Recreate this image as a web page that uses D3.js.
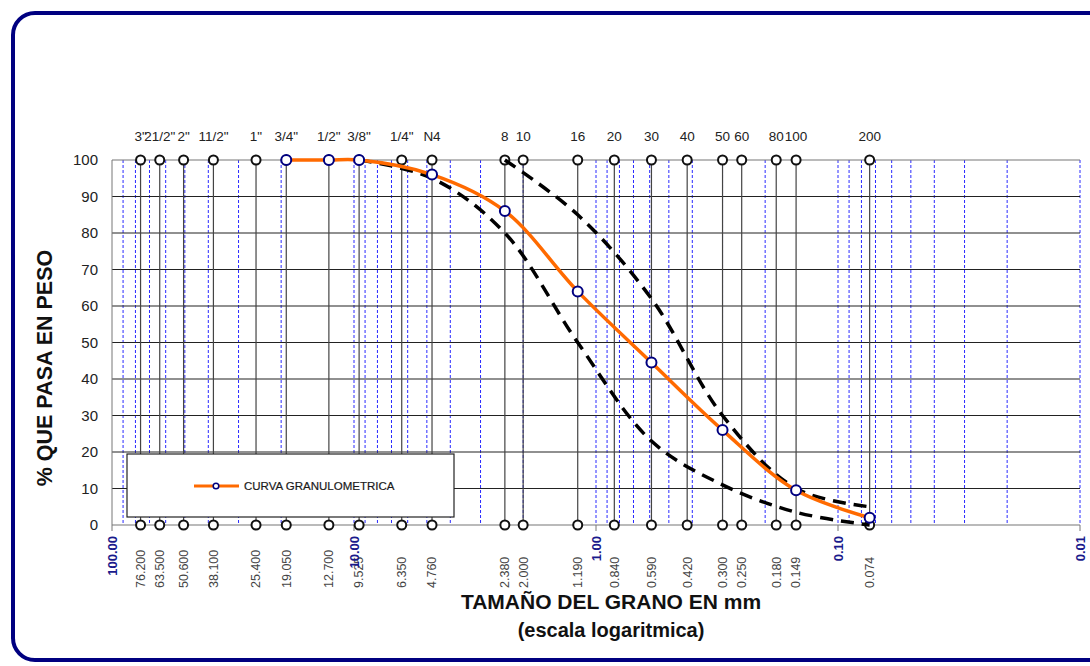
<!DOCTYPE html>
<html>
<head>
<meta charset="utf-8">
<script src="https://cdn.jsdelivr.net/npm/d3@7"></script>
<style>
  body { margin: 0; background: #fff; }
  text { font-family: Arial, "Liberation Sans", sans-serif; }
</style>
</head>
<body>
<div id="chart"></div>
<script>
// sieve openings (mm) and their names
var sieveSizes = [76.2, 63.5, 50.6, 38.1, 25.4, 19.05, 12.7, 9.525, 6.35, 4.76, 2.38, 2.0, 1.19, 0.84, 0.59, 0.42, 0.3, 0.25, 0.18, 0.149, 0.074];
var sieveNames = ['3"', '21/2"', '2"', '11/2"', '1"', '3/4"', '1/2"', '3/8"', '1/4"', 'N4', '8', '10', '16', '20', '30', '40', '50', '60', '80', '100', '200'];

// granulometric curve
var curveSize = [19.05, 12.7, 9.525, 4.76, 2.38, 1.19, 0.59, 0.3, 0.149, 0.074];
var curvePass = [100, 100, 100, 96, 86, 64, 44.5, 26, 9.5, 2];

// spec limits (dashed)
var upperSize = [2.38, 1.19, 0.59, 0.3, 0.149, 0.074];
var upperPass = [100, 85, 62, 30, 10, 5];
var lowerSize = [9.525, 4.76, 2.38, 1.19, 0.59, 0.3, 0.149, 0.074];
var lowerPass = [100, 95, 80, 50, 23, 11, 3.5, 0];

var decades = [100, 10, 1, 0.1, 0.01];
var decadeLabels = ['100.00', '10.00', '1.00', '0.10', '0.01'];
var yTicks = [0, 10, 20, 30, 40, 50, 60, 70, 80, 90, 100];

var width = 1090,
    height = 666;

var x = d3.scaleLog().domain([100, 0.01]).range([112, 1080]),
    y = d3.scaleLinear().domain([0, 100]).range([525, 160]);

var svg = d3.select('#chart').append('svg')
    .attr('width', width)
    .attr('height', height);

// outer rounded frame
svg.append('rect')
    .attr('x', 13).attr('y', 13)
    .attr('width', 1110).attr('height', 647)
    .attr('rx', 22)
    .attr('fill', 'none')
    .attr('stroke', '#000080')
    .attr('stroke-width', 4);

// minor log grid (blue dashed)
var minor = [];
for (var p = -2; p < 2; p++) {
  for (var m = 1; m < 10; m++) {
    var v = m * Math.pow(10, p);
    if (v < 100 && v > 0.01) minor.push(v);
  }
}
minor.push(0.01);

svg.append('g').selectAll('line')
    .data(minor)
    .enter().append('line')
    .attr('x1', function(d) { return x(d); })
    .attr('x2', function(d) { return x(d); })
    .attr('y1', y(100)).attr('y2', y(0))
    .attr('stroke', '#2a2aff')
    .attr('stroke-width', 1)
    .attr('stroke-dasharray', '3,2');

// horizontal grid
svg.append('g').selectAll('line')
    .data(yTicks)
    .enter().append('line')
    .attr('x1', x(100)).attr('x2', x(0.01))
    .attr('y1', function(d) { return y(d); })
    .attr('y2', function(d) { return y(d); })
    .attr('stroke', function(d) { return d === 0 || d === 100 ? '#777' : '#222'; })
    .attr('stroke-width', 1.2);

// left edge
svg.append('line')
    .attr('x1', x(100)).attr('x2', x(100))
    .attr('y1', y(100)).attr('y2', y(0))
    .attr('stroke', '#777');

// decade ticks under axis
svg.append('g').selectAll('line')
    .data(decades)
    .enter().append('line')
    .attr('x1', function(d) { return x(d); })
    .attr('x2', function(d) { return x(d); })
    .attr('y1', y(0)).attr('y2', y(0) + 6)
    .attr('stroke', '#777');

// y tick labels
svg.append('g').selectAll('text')
    .data(yTicks)
    .enter().append('text')
    .attr('x', 98)
    .attr('y', function(d) { return y(d); })
    .attr('dy', '0.36em')
    .attr('text-anchor', 'end')
    .attr('font-size', 15)
    .attr('fill', '#222')
    .text(function(d) { return d; });

// sieve lines
svg.append('g').selectAll('line')
    .data(sieveSizes)
    .enter().append('line')
    .attr('x1', function(d) { return x(d); })
    .attr('x2', function(d) { return x(d); })
    .attr('y1', y(100)).attr('y2', y(0))
    .attr('stroke', '#444')
    .attr('stroke-width', 1.2);

// legend box (under curves)
svg.append('rect')
    .attr('x', 127).attr('y', 454)
    .attr('width', 327).attr('height', 63)
    .attr('fill', '#fff')
    .attr('stroke', '#222')
    .attr('stroke-width', 1.2);

svg.append('line')
    .attr('x1', 194).attr('x2', 239)
    .attr('y1', 486).attr('y2', 486)
    .attr('stroke', '#ff6a00').attr('stroke-width', 3);
svg.append('circle')
    .attr('cx', 216).attr('cy', 486).attr('r', 2.8)
    .attr('fill', '#fff').attr('stroke', '#000080').attr('stroke-width', 1.5);
svg.append('text')
    .attr('x', 244).attr('y', 490)
    .attr('font-size', 11.5)
    .attr('fill', '#1a1a1a')
    .attr('stroke', '#1a1a1a').attr('stroke-width', 0.2)
    .text('CURVA GRANULOMETRICA');

// sieve circles top & bottom
[100, 0].forEach(function(lev) {
  svg.append('g').selectAll('circle')
      .data(sieveSizes)
      .enter().append('circle')
      .attr('cx', function(d) { return x(d); })
      .attr('cy', y(lev))
      .attr('r', 4.5)
      .attr('fill', '#fff')
      .attr('stroke', '#111')
      .attr('stroke-width', 2);
});

var line = d3.line()
    .x(function(d) { return x(d[0]); })
    .y(function(d) { return y(d[1]); })
    .curve(d3.curveCatmullRom.alpha(0.5));

function pairs(a, b) { return a.map(function(v, i) { return [v, b[i]]; }); }

// spec limit lines
[pairs(upperSize, upperPass), pairs(lowerSize, lowerPass)].forEach(function(pts) {
  svg.append('path')
      .datum(pts)
      .attr('d', line)
      .attr('fill', 'none')
      .attr('stroke', '#000')
      .attr('stroke-width', 3.5)
      .attr('stroke-dasharray', '13,8');
});

// granulometric curve
var cpts = pairs(curveSize, curvePass);
svg.append('path')
    .datum(cpts)
    .attr('d', line)
    .attr('fill', 'none')
    .attr('stroke', '#ff6a00')
    .attr('stroke-width', 3.5);

svg.append('g').selectAll('circle')
    .data(cpts)
    .enter().append('circle')
    .attr('cx', function(d) { return x(d[0]); })
    .attr('cy', function(d) { return y(d[1]); })
    .attr('r', 5)
    .attr('fill', '#fff')
    .attr('stroke', '#000080')
    .attr('stroke-width', 2);

// sieve names on top
svg.append('g').selectAll('text')
    .data(sieveSizes)
    .enter().append('text')
    .attr('x', function(d) { return x(d); })
    .attr('y', 141)
    .attr('text-anchor', 'middle')
    .attr('font-size', 13.5)
    .attr('fill', '#222')
    .text(function(d, i) { return sieveNames[i]; });

// sieve sizes at the bottom (rotated)
var fmt = d3.format('.3f');
svg.append('g').selectAll('text')
    .data(sieveSizes)
    .enter().append('text')
    .attr('transform', function(d) { return 'translate(' + x(d) + ',588) rotate(-90)'; })
    .attr('dy', '0.35em')
    .attr('text-anchor', 'start')
    .attr('font-size', 12.5)
    .attr('fill', '#444')
    .text(function(d) { return fmt(d); });

// decade labels
svg.append('g').selectAll('text')
    .data(decades)
    .enter().append('text')
    .attr('transform', function(d) { return 'translate(' + x(d) + ',536) rotate(-90)'; })
    .attr('dy', '0.35em')
    .attr('text-anchor', 'end')
    .attr('font-size', 13)
    .attr('font-weight', 'bold')
    .attr('fill', '#1a1a8c')
    .text(function(d, i) { return decadeLabels[i]; });

// axis titles
svg.append('text')
    .attr('transform', 'translate(52,368) rotate(-90)')
    .attr('text-anchor', 'middle')
    .attr('font-size', 21.5)
    .attr('font-weight', 'bold')
    .attr('fill', '#111')
    .text('% QUE PASA EN PESO');

svg.append('text')
    .attr('x', 611).attr('y', 609)
    .attr('text-anchor', 'middle')
    .attr('font-size', 21)
    .attr('font-weight', 'bold')
    .attr('fill', '#111')
    .text('TAMAÑO DEL GRANO EN mm');

svg.append('text')
    .attr('x', 611).attr('y', 637)
    .attr('text-anchor', 'middle')
    .attr('font-size', 20)
    .attr('font-weight', 'bold')
    .attr('fill', '#111')
    .text('(escala logaritmica)');
</script>
</body>
</html>
